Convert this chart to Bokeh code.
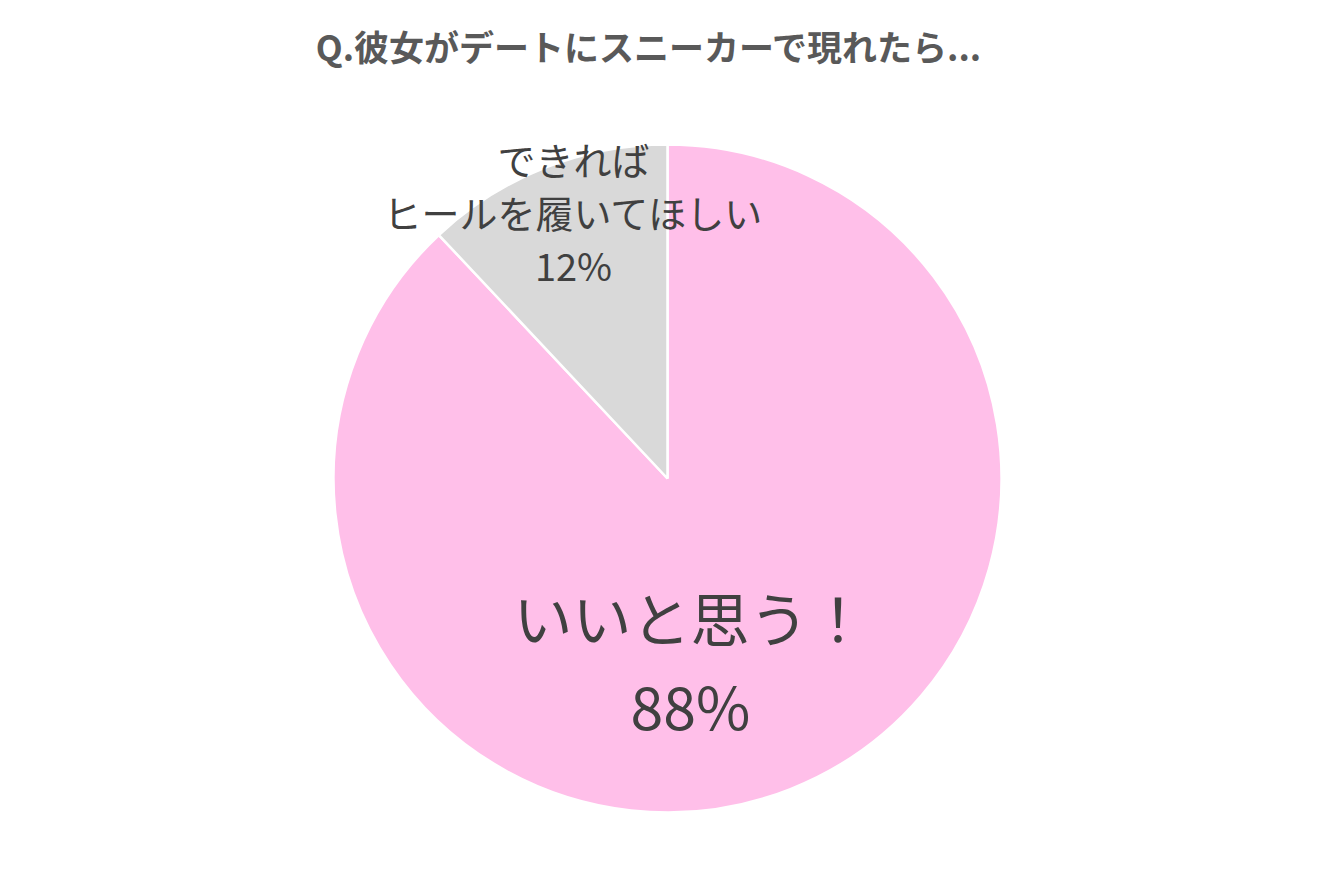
import math
from bokeh.plotting import figure
from bokeh.models import Range1d, ColumnDataSource
from bokeh.core.properties import value
from bokeh.embed import file_html
from bokeh.resources import INLINE

title_text = "Q.彼女がデートにスニーカーで現れたら..."
categories = ["いいと思う！", "できれば\nヒールを履いてほしい"]
values = [88, 12]
colors = ["#FFBFE9", "#D9D9D9"]

W, H = 1317, 873
p = figure(width=W, height=H, output_backend="svg", toolbar_location=None,
           x_range=Range1d(0, W), y_range=Range1d(889 - H, 889),
           min_border=0, outline_line_color=None, background_fill_color="white",
           border_fill_color="white")
p.axis.visible = False
p.grid.visible = False

cx, cy, r = 667, 889 - 478, 334

total = sum(values)
starts, ends = [], []
a = math.pi / 2
for v in values:
    starts.append(a)
    a -= 2 * math.pi * v / total
    ends.append(a)

src = ColumnDataSource(dict(start=starts, end=ends, color=colors))
p.wedge(x=cx, y=cy, radius=r, start_angle="start", end_angle="end",
        direction="clock", fill_color="color", line_color="white", line_width=2.5,
        source=src)

FONT = value("Noto Sans CJK JP")

# title
p.text(x=[649], y=[889 - 45], text=[title_text], text_font=FONT, text_font_size="35px",
       text_font_style="bold", text_color="#595959", text_align="center",
       text_baseline="middle")

# label positions (screen coordinates of label block centres)
label_pos = [(690, 660, 59, 88), (573, 211, 38, 53)]
for cat, v, (lx, ly, fs, lh) in zip(categories, values, label_pos):
    lines = cat.split("\n") + [f"{v}%"]
    n = len(lines)
    ys = [889 - (ly + (i - (n - 1) / 2) * lh) for i in range(n)]
    p.text(x=[lx] * n, y=ys, text=lines, text_font=FONT, text_font_size=f"{fs}px",
           text_color="#404040", text_align="center", text_baseline="middle")

open("out.html", "w").write(file_html(p, INLINE))
